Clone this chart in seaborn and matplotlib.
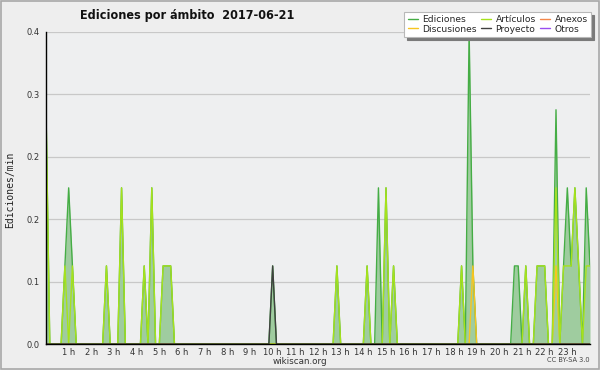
import numpy as np
import pandas as pd
import matplotlib
matplotlib.use("Agg")
import matplotlib.pyplot as plt
import matplotlib.ticker as mticker
from matplotlib.patches import Rectangle
import seaborn as sns

# ---- data: edits per minute, one value per 10-minute slot (00:00 .. 24:00) ----
# each row = one hour (6 slots)
ediciones = [
    0.3, 0, 0, 0, 0, 0.1,      # 0 h
    0.2, 0.1, 0, 0, 0, 0,      # 1 h
    0, 0, 0, 0, 0.1, 0,        # 2 h
    0, 0, 0.2, 0, 0, 0,        # 3 h
    0, 0, 0.1, 0, 0.2, 0,      # 4 h
    0, 0.1, 0.1, 0.1, 0, 0,    # 5 h
    0, 0, 0, 0, 0, 0,          # 6 h
    0, 0, 0, 0, 0, 0,          # 7 h
    0, 0, 0, 0, 0, 0,          # 8 h
    0, 0, 0, 0, 0, 0,          # 9 h
    0.1, 0, 0, 0, 0, 0,        # 10 h
    0, 0, 0, 0, 0, 0,          # 11 h
    0, 0, 0, 0, 0, 0.1,        # 12 h
    0, 0, 0, 0, 0, 0,          # 13 h
    0, 0.1, 0, 0, 0.2, 0,      # 14 h
    0.2, 0, 0.1, 0, 0, 0,      # 15 h
    0, 0, 0, 0, 0, 0,          # 16 h
    0, 0, 0, 0, 0, 0,          # 17 h
    0, 0, 0.1, 0, 0.4, 0.1,    # 18 h
    0, 0, 0, 0, 0, 0,          # 19 h
    0, 0, 0, 0, 0.1, 0.1,      # 20 h
    0, 0.1, 0, 0, 0.1, 0.1,    # 21 h
    0.1, 0, 0, 0.3, 0, 0.1,    # 22 h
    0.2, 0.1, 0.2, 0.1, 0, 0.2,  # 23 h
    0.1,                       # 24 h
]
articulos = [
    0.3, 0, 0, 0, 0, 0.1,
    0, 0.1, 0, 0, 0, 0,
    0, 0, 0, 0, 0.1, 0,
    0, 0, 0.2, 0, 0, 0,
    0, 0, 0.1, 0, 0.2, 0,
    0, 0.1, 0.1, 0.1, 0, 0,
    0, 0, 0, 0, 0, 0,
    0, 0, 0, 0, 0, 0,
    0, 0, 0, 0, 0, 0,
    0, 0, 0, 0, 0, 0,
    0, 0, 0, 0, 0, 0,
    0, 0, 0, 0, 0, 0,
    0, 0, 0, 0, 0, 0.1,
    0, 0, 0, 0, 0, 0,
    0, 0.1, 0, 0, 0, 0,
    0.2, 0, 0.1, 0, 0, 0,
    0, 0, 0, 0, 0, 0,
    0, 0, 0, 0, 0, 0,
    0, 0, 0.1, 0, 0, 0,
    0, 0, 0, 0, 0, 0,
    0, 0, 0, 0, 0, 0,
    0, 0.1, 0, 0, 0.1, 0.1,
    0.1, 0, 0, 0.2, 0, 0.1,
    0.1, 0.1, 0.2, 0.1, 0, 0.1,
    0.1,
]
discusiones = [0.0] * 145
discusiones[113] = 0.1   # 18:50
discusiones[135] = 0.1   # 22:30
proyecto = [0.0] * 145
proyecto[60] = 0.1       # 10:00
anexos = [0.0] * 145
otros = [0.0] * 145

hours = np.arange(145) / 6.0
hour_ticks = list(range(1, 24))
hour_labels = [f"{h} h" for h in hour_ticks]
y_ticks = [0.0, 0.08, 0.16, 0.24, 0.32, 0.40]

series = [
    ("Ediciones", ediciones, "#45ad45"),
    ("Discusiones", discusiones, "#f7c520"),
    ("Artículos", articulos, "#a6e21c"),
    ("Proyecto", proyecto, "#404040"),
    ("Anexos", anexos, "#f4874a"),
    ("Otros", otros, "#9a4ef0"),
]

sns.set_style("white")
plt.rcParams["font.family"] = ["DejaVu Sans"]

BG = "#eeeff0"
fig = plt.figure(figsize=(6.0, 3.7), dpi=100, facecolor="#eeeeee")
ax = fig.add_axes([46 / 600, 26 / 370, 544 / 600, 312.3 / 370])
ax.set_facecolor(BG)

# area under the total
ax.fill_between(hours, ediciones, 0, color="#9fcc9f", lw=0, zorder=1)

handles = {}
draw_order = ["Anexos", "Otros", "Ediciones", "Discusiones", "Artículos", "Proyecto"]
sdict = {n: (v, c) for n, v, c in series}
for name in draw_order:
    vals, col = sdict[name]
    df = pd.DataFrame({"h": hours, "v": vals})
    sns.lineplot(data=df, x="h", y="v", color=col, lw=1.0, ax=ax,
                 label=name, zorder=3, legend=False)
    handles[name] = ax.lines[-1]

ax.set_xlim(0, 24)
ax.set_ylim(0, 0.4)
ax.set_xlabel("")
ax.set_ylabel("")

# grid
ax.set_yticks(y_ticks)
ax.yaxis.set_major_formatter(mticker.FormatStrFormatter("%.1f"))
ax.yaxis.set_minor_locator(mticker.MultipleLocator(0.02))
ax.grid(axis="y", color="#c8c8c8", lw=0.9, zorder=0)
ax.set_axisbelow(True)

ax.set_xticks(hour_ticks)
ax.set_xticklabels(hour_labels)
ax.xaxis.set_minor_locator(mticker.MultipleLocator(1 / 6))

ax.tick_params(axis="x", which="both", direction="out", length=2.2, width=0.8,
               color="black", labelsize=6, pad=1.0, labelcolor="#333333")
ax.tick_params(axis="y", which="major", direction="out", length=3, width=0.8,
               color="black", labelsize=6, pad=1.5, labelcolor="#333333")
ax.tick_params(axis="y", which="minor", direction="out", length=1.8, width=0.7,
               color="black")

for s in ["top", "right"]:
    ax.spines[s].set_visible(False)
for s in ["left", "bottom"]:
    ax.spines[s].set_color("black")
    ax.spines[s].set_linewidth(1.0)
    ax.spines[s].set_zorder(5)

# legend
order = ["Ediciones", "Discusiones", "Artículos", "Proyecto", "Anexos", "Otros"]
leg = ax.legend([handles[n] for n in order], order, ncol=3,
                loc="upper right", bbox_to_anchor=(591 / 600, 1 - 12 / 370),
                bbox_transform=fig.transFigure, frameon=True, fancybox=False,
                shadow={"color": "#7a7a7a", "alpha": 1.0}, framealpha=1.0,
                facecolor="white", edgecolor="#b8b8b8", fontsize=6.6,
                handlelength=1.1, handletextpad=0.5, columnspacing=0.45,
                labelspacing=0.05, borderpad=0.35, borderaxespad=0)
leg.get_frame().set_linewidth(0.8)
leg.set_zorder(10)

# texts
fig.text(187 / 600, 1 - 15 / 370, "Ediciones por ámbito  2017-06-21",
         ha="center", va="center", fontsize=9, fontweight="bold",
         fontstretch="condensed", family="DejaVu Sans", color="#111111")
fig.text(10 / 600, 1 - 190 / 370, "Ediciones/min", rotation=90, ha="center",
         va="center", fontsize=7, family="DejaVu Sans Mono", color="#222222")
fig.text(300 / 600, 1 - 361 / 370, "wikiscan.org", ha="center", va="center",
         fontsize=6.3, color="#333333")
fig.text(590 / 600, 1 - 360 / 370, "CC BY-SA 3.0", ha="right", va="center",
         fontsize=4.8, color="#444444")

# outer border
fig.patches.append(Rectangle((0.001, 0.002), 0.997, 0.996, transform=fig.transFigure,
                             fill=False, edgecolor="#a8a8a8", lw=1.2))

fig.savefig("out.png", dpi=100, facecolor=fig.get_facecolor())
